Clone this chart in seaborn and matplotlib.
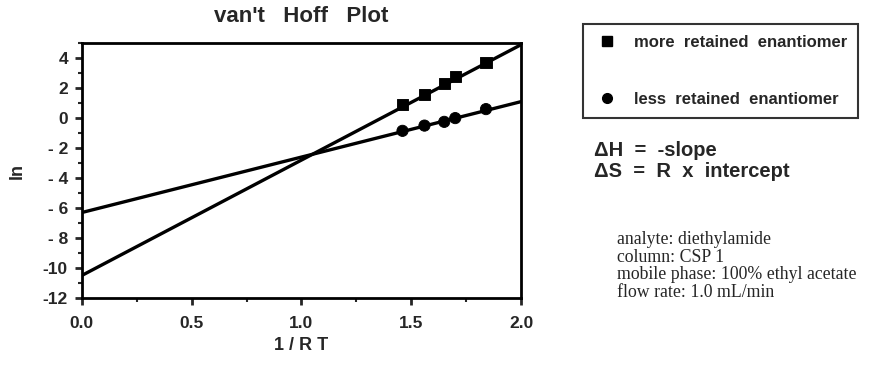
import matplotlib
matplotlib.use("Agg")
import matplotlib.pyplot as plt
import seaborn as sns
import pandas as pd
from matplotlib.lines import Line2D
from matplotlib.ticker import MultipleLocator

# ---- data ----
inv_rt = [1.46, 1.56, 1.65, 1.70, 1.84]
ln_more = [0.9, 1.6, 2.3, 2.8, 3.7]
ln_less = [-0.85, -0.5, -0.25, 0.0, 0.6]
fit_x = [0.0, 2.0]
fit_more = [-10.5, 4.9]
fit_less = [-6.3, 1.1]
series_labels = ["more  retained  enantiomer", "less  retained  enantiomer"]
x_ticks = [0.0, 0.5, 1.0, 1.5, 2.0]
x_ticklabels = ["0.0", "0.5", "1.0", "1.5", "2.0"]
y_ticks = [-12, -10, -8, -6, -4, -2, 0, 2, 4]
y_ticklabels = ["-12", "-10", "- 8", "- 6", "- 4", "- 2", "0", "2", "4"]
title = "van't   Hoff   Plot"
xlabel = "1 / R T"
ylabel = "ln"
eq_lines = ["ΔH  =  -slope", "ΔS  =  R  x  intercept"]
info_lines = ["analyte: diethylamide", "column: CSP 1",
              "mobile phase: 100% ethyl acetate", "flow rate: 1.0 mL/min"]

sns.set_style("ticks")
plt.rcParams['font.family'] = ['Liberation Sans', 'DejaVu Sans']
plt.rcParams['font.weight'] = 'bold'

fig = plt.figure(figsize=(8.7, 3.72), dpi=100)
ax = fig.add_axes([0.094, 0.199, 0.505, 0.685])

fit_df = pd.DataFrame({"x": fit_x * 2, "y": fit_more + fit_less,
                       "s": [series_labels[0]] * 2 + [series_labels[1]] * 2})
sns.lineplot(data=fit_df, x="x", y="y", units="s", estimator=None,
             color="black", lw=2.4, ax=ax, legend=False)
pts = pd.DataFrame({"x": inv_rt * 2, "y": ln_more + ln_less,
                    "s": [series_labels[0]] * 5 + [series_labels[1]] * 5})
sns.scatterplot(data=pts, x="x", y="y", style="s", markers=["s", "o"],
                color="black", s=65, edgecolor="black", ax=ax, legend=False,
                zorder=3)

ax.set_xlim(0, 2.0)
ax.set_ylim(-12, 5)
ax.set_xticks(x_ticks)
ax.set_xticklabels(x_ticklabels)
ax.set_yticks(y_ticks)
ax.set_yticklabels(y_ticklabels)
ax.xaxis.set_minor_locator(MultipleLocator(0.25))
ax.yaxis.set_minor_locator(MultipleLocator(1))
ax.tick_params(which="major", direction="out", length=5, width=2,
               labelsize=12.5)
ax.tick_params(axis="x", which="major", pad=8)
ax.tick_params(axis="y", which="major", pad=5)
ax.tick_params(which="minor", direction="out", length=3, width=1.5)
for sp in ax.spines.values():
    sp.set_visible(True)
    sp.set_linewidth(2)
    sp.set_color("black")
ax.set_title(title, fontsize=16, fontweight="bold", pad=15)
ax.set_xlabel(xlabel, fontsize=13, fontweight="bold", labelpad=4)
ax.set_ylabel(ylabel, fontsize=13, fontweight="bold", labelpad=12)

handles = [Line2D([], [], marker="s", color="black", ls="none", markersize=7),
           Line2D([], [], marker="o", color="black", ls="none", markersize=7)]
leg = fig.legend(handles, series_labels, loc="upper left",
                 bbox_to_anchor=(0.670, 0.935), frameon=True, fancybox=False,
                 edgecolor="black", labelspacing=2.5, handletextpad=0.8,
                 borderpad=0.65, borderaxespad=0, handlelength=1.6,
                 prop={"size": 12, "weight": "bold"})
leg.get_frame().set_linewidth(1.5)

fig.text(0.683, 0.595, eq_lines[0], fontsize=14.5, fontweight="bold", va="center")
fig.text(0.683, 0.540, eq_lines[1], fontsize=14.5, fontweight="bold", va="center")

for i, t in enumerate(info_lines):
    fig.text(0.709, 0.355 - i * 0.047, t, fontsize=12.8, fontweight="normal",
             family="Liberation Serif", va="center")

fig.savefig("out.png", dpi=100)
